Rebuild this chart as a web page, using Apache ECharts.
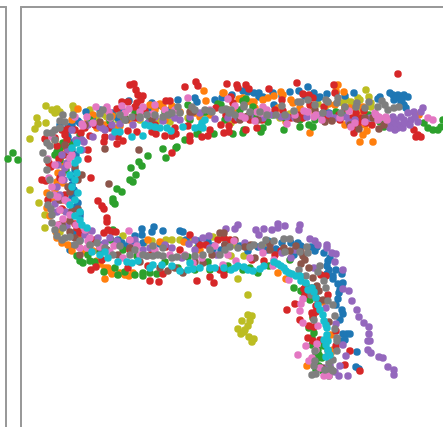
<!DOCTYPE html>
<html><head><meta charset="utf-8">
<style>html,body{margin:0;padding:0;background:#fff}#c{width:443px;height:427px}</style>
<script src="https://cdn.jsdelivr.net/npm/echarts@6/dist/echarts.min.js"></script>
</head><body><div id="c"></div>
<script>
const blue=[[243,91],[254,93],[259,93],[259,97],[273,93],[290,92],[299,91],[308,87],[314,93],[318,98],[327,94],[336,93],[354,93],[380,97],[378,99],[393,95],[398,95],[404,95],[408,97],[394,100],[401,102],[404,105],[406,108],[274,105],[228,115],[329,113],[86,112],[112,113],[72,125],[78,121],[68,127],[129,101],[152,103],[157,106],[178,100],[195,98],[197,102],[68,137],[80,123],[72,178],[75,193],[78,203],[80,213],[80,216],[142,229],[142,235],[154,227],[152,232],[163,231],[180,231],[183,232],[198,241],[199,245],[213,246],[213,249],[135,236],[130,241],[127,246],[102,245],[70,250],[248,251],[267,250],[268,241],[276,249],[291,243],[298,243],[301,246],[317,247],[315,251],[324,253],[328,261],[327,266],[329,270],[336,270],[342,274],[333,279],[338,284],[343,283],[339,293],[338,299],[342,310],[343,314],[343,334],[347,334],[357,352],[356,367],[359,369],[294,255],[341,341],[221,250],[70,130],[66,135],[74,142],[72,150],[76,155],[75,170],[72,185],[74,190],[72,198],[76,207],[60,125],[92,118],[100,110],[118,118],[123,112],[140,110],[150,108],[170,110],[215,100],[222,98],[232,95],[248,92],[263,97],[282,96],[305,96],[320,97],[345,96],[390,93],[396,98],[400,98],[402,100],[118,240],[122,243],[135,243],[143,243],[160,244],[186,240],[208,242],[225,245],[240,246],[258,247],[282,243],[311,247],[330,258],[327,274],[333,276],[340,290],[336,305],[340,320],[350,334],[345,340],[76,232],[80,240],[72,246]];
const orange=[[224,93],[239,99],[243,98],[251,102],[254,102],[236,112],[268,98],[274,96],[281,92],[283,95],[291,100],[293,103],[329,104],[336,91],[338,85],[344,92],[346,112],[363,107],[364,110],[286,122],[310,133],[360,142],[373,142],[363,135],[367,131],[419,115],[78,109],[93,115],[105,125],[112,116],[117,128],[120,126],[160,104],[163,107],[172,106],[206,101],[204,91],[200,117],[62,165],[58,173],[57,182],[63,183],[47,193],[63,200],[47,208],[63,173],[223,93],[97,128],[50,216],[57,238],[68,245],[72,251],[78,246],[87,253],[93,251],[97,261],[105,268],[108,268],[112,274],[105,279],[125,275],[129,276],[133,273],[148,240],[184,242],[307,366],[278,273],[286,279],[323,302],[331,335],[331,353],[333,350],[55,140],[60,150],[60,160],[55,190],[55,200],[63,210],[65,222],[56,232],[62,243],[78,238],[85,250],[100,264],[110,271],[120,273],[130,120],[138,118],[150,105],[155,110],[165,120],[180,112],[195,113],[210,115],[228,110],[245,103],[255,108],[263,100],[278,108],[300,108],[315,113],[335,105],[350,108],[345,125],[365,125],[358,115],[160,242],[200,250],[88,120],[72,120],[124,118]];
const green=[[243,101],[246,99],[253,107],[221,105],[233,134],[243,133],[244,130],[261,132],[263,128],[284,130],[300,127],[309,125],[313,127],[273,115],[324,118],[336,112],[424,123],[428,128],[433,130],[438,130],[441,127],[443,120],[369,115],[384,127],[13,153],[8,159],[18,160],[57,152],[58,155],[63,143],[72,145],[135,112],[197,134],[198,132],[185,140],[214,134],[218,104],[188,105],[177,147],[176,148],[163,149],[166,158],[148,156],[139,162],[142,166],[131,168],[136,175],[130,180],[133,182],[117,189],[122,192],[113,199],[115,204],[113,202],[77,256],[80,261],[83,263],[90,261],[104,272],[118,275],[135,275],[143,273],[143,276],[150,273],[157,274],[111,240],[123,250],[137,256],[113,230],[208,262],[210,270],[188,257],[294,288],[301,291],[304,293],[313,318],[309,328],[314,333],[316,355],[319,355],[319,366],[323,371],[329,376],[243,270],[258,273],[269,266],[290,260],[228,266],[324,346],[60,148],[60,160],[55,155],[66,170],[80,135],[90,120],[110,121],[125,118],[150,120],[165,112],[190,120],[205,112],[225,120],[240,110],[255,115],[268,122],[285,118],[300,120],[315,120],[345,115],[355,118],[375,118],[380,122],[388,120],[100,252],[95,262],[88,255],[115,268],[125,272],[165,262],[178,268],[195,270],[225,270],[250,268],[312,345],[318,350],[316,360],[322,358],[326,372],[316,370],[312,338],[306,285],[310,300]];
const red=[[398,74],[227,84],[237,85],[238,88],[246,85],[249,89],[269,89],[297,83],[334,85],[335,93],[303,94],[309,95],[313,98],[231,97],[233,103],[282,100],[283,111],[324,107],[221,125],[229,126],[229,132],[224,133],[246,130],[257,128],[226,115],[291,118],[298,115],[303,118],[339,115],[340,120],[356,113],[364,111],[359,120],[358,125],[366,123],[356,128],[354,133],[414,130],[418,135],[421,137],[416,137],[130,85],[134,84],[136,90],[138,95],[143,96],[141,100],[137,103],[135,107],[122,102],[128,102],[185,87],[196,82],[198,86],[117,109],[145,111],[166,101],[170,101],[188,126],[128,131],[137,132],[152,132],[156,134],[165,136],[172,136],[176,134],[118,137],[123,141],[117,144],[105,137],[104,142],[90,136],[81,133],[190,136],[190,141],[202,137],[208,136],[216,108],[172,153],[45,139],[55,138],[62,130],[68,129],[57,146],[67,140],[67,148],[71,150],[88,150],[88,159],[59,159],[49,163],[51,167],[42,180],[46,181],[91,178],[98,201],[102,206],[104,209],[48,200],[62,209],[107,218],[107,222],[104,233],[108,230],[112,232],[116,232],[91,270],[96,267],[102,260],[148,266],[128,268],[150,281],[159,282],[163,274],[197,281],[210,277],[214,283],[190,235],[206,245],[218,240],[166,247],[80,233],[220,270],[77,228],[252,260],[264,261],[224,275],[304,289],[287,310],[295,304],[316,306],[312,313],[313,316],[300,320],[309,326],[314,327],[313,341],[336,346],[350,351],[321,275],[326,276],[328,295],[360,371],[336,331],[281,251],[224,238],[65,135],[75,130],[85,128],[95,125],[110,128],[135,118],[155,125],[175,128],[210,130],[235,120],[250,120],[262,120],[275,110],[310,105],[322,115],[328,118],[345,108],[352,118],[362,118],[372,125],[64,155],[60,178],[65,195],[75,224],[60,225],[85,232],[95,240],[130,250],[150,255],[180,250],[200,245],[230,240],[275,255],[305,295],[318,300],[316,312],[320,340],[308,338],[345,365]];
const purple=[[238,118],[241,118],[263,118],[281,117],[287,117],[307,117],[329,114],[346,117],[349,122],[391,123],[396,120],[401,117],[399,125],[403,128],[398,128],[408,113],[414,112],[411,120],[418,122],[423,108],[421,112],[394,125],[82,140],[84,142],[93,137],[100,127],[112,125],[112,137],[133,125],[148,123],[163,121],[175,118],[180,120],[190,117],[215,119],[82,150],[67,163],[65,168],[62,174],[57,187],[58,197],[55,204],[57,212],[102,128],[67,226],[92,231],[98,238],[105,243],[117,241],[131,247],[172,248],[189,244],[195,240],[203,238],[209,236],[217,255],[182,258],[143,250],[226,229],[238,225],[235,229],[256,230],[259,235],[264,229],[272,230],[278,224],[278,228],[285,226],[300,225],[299,230],[310,239],[315,241],[327,245],[327,248],[332,253],[336,254],[335,262],[343,270],[343,289],[349,291],[352,301],[357,310],[359,317],[364,323],[369,327],[369,334],[368,341],[370,341],[368,350],[371,353],[379,357],[383,358],[388,367],[394,370],[394,375],[348,376],[340,366],[339,376],[346,356],[343,345],[336,324],[326,308],[282,253],[291,258],[261,247],[314,268],[72,130],[76,140],[68,150],[62,155],[58,165],[64,180],[60,195],[60,200],[66,212],[88,125],[105,130],[120,124],[140,118],[155,117],[170,115],[200,113],[228,118],[250,115],[270,115],[295,118],[320,115],[335,118],[355,120],[370,118],[404,120],[395,130],[405,123],[393,117],[390,128],[410,125],[415,117],[85,235],[110,238],[135,240],[150,248],[165,245],[195,250],[210,248],[225,245],[245,243],[270,245],[295,250],[318,245],[330,365],[335,372],[325,368]];
const brown=[[246,117],[248,116],[297,119],[325,122],[332,121],[359,129],[379,129],[384,125],[373,118],[105,149],[139,150],[109,184],[78,180],[82,175],[68,187],[70,192],[78,209],[72,211],[190,112],[193,112],[75,167],[70,157],[70,221],[80,255],[107,250],[118,255],[168,271],[183,273],[203,263],[212,255],[220,233],[224,233],[251,245],[301,252],[303,256],[301,264],[309,268],[313,278],[317,286],[319,291],[323,300],[329,322],[322,368],[270,244],[284,248],[290,251],[65,145],[60,200],[62,225],[70,232],[75,238],[90,245],[100,248],[130,248],[140,262],[160,268],[175,268],[195,262],[225,245],[235,240],[245,247],[255,258],[270,250],[296,246],[305,260],[315,295],[312,288],[240,120],[258,120],[315,110],[350,125],[365,118],[100,122],[85,125],[126,120],[152,119]];
const pink=[[228,99],[257,112],[263,107],[267,110],[241,116],[255,121],[287,124],[304,111],[308,112],[316,115],[314,117],[349,111],[351,127],[376,115],[379,117],[378,120],[386,117],[428,118],[433,120],[96,107],[107,107],[87,117],[93,123],[82,124],[109,112],[122,106],[129,109],[143,107],[155,105],[153,114],[188,98],[52,137],[48,159],[72,155],[49,178],[62,180],[52,187],[58,197],[68,202],[65,200],[83,126],[63,219],[129,231],[88,241],[87,248],[80,248],[114,246],[137,246],[193,263],[202,258],[147,256],[123,258],[289,280],[303,299],[301,304],[300,311],[303,323],[318,326],[306,346],[298,355],[309,361],[317,344],[329,376],[324,376],[274,260],[263,253],[236,261],[273,266],[223,265],[234,241],[70,158],[68,165],[55,165],[54,195],[60,210],[58,225],[70,215],[76,225],[85,230],[90,238],[100,247],[110,252],[130,240],[140,255],[155,250],[170,255],[185,255],[215,246],[228,255],[250,258],[75,117],[110,118],[125,113],[140,112],[165,110],[175,110],[210,110],[235,106],[245,118],[262,113],[295,115],[322,120],[340,118],[355,123],[365,122],[380,118],[375,113],[387,120],[312,358],[320,368],[316,350]];
const gray=[[226,109],[231,110],[229,113],[244,105],[244,107],[282,106],[298,102],[301,102],[308,100],[326,100],[328,102],[338,98],[337,103],[357,103],[356,107],[369,102],[382,101],[378,107],[388,110],[394,108],[399,107],[267,115],[276,115],[294,111],[323,113],[341,113],[63,115],[73,115],[60,121],[65,122],[55,130],[52,133],[47,133],[47,143],[50,146],[43,153],[47,170],[50,195],[51,209],[100,114],[103,110],[120,115],[132,117],[140,117],[147,115],[163,117],[168,115],[178,107],[180,113],[192,107],[205,110],[210,111],[52,223],[55,230],[57,236],[65,238],[70,237],[80,241],[97,243],[120,246],[130,255],[147,256],[153,256],[163,248],[163,256],[172,258],[177,257],[195,256],[220,255],[203,255],[153,246],[113,255],[230,247],[254,245],[266,240],[274,241],[284,239],[290,239],[307,247],[308,253],[299,270],[306,276],[320,266],[324,281],[326,288],[311,295],[328,301],[333,305],[335,316],[314,320],[335,329],[337,338],[337,341],[337,351],[328,351],[315,351],[315,361],[314,366],[316,374],[312,375],[329,363],[331,369],[333,371],[238,248],[60,128],[55,140],[47,160],[50,180],[48,205],[52,215],[63,228],[62,240],[75,245],[90,245],[105,248],[110,117],[125,120],[155,115],[172,113],[195,110],[212,112],[222,110],[235,115],[250,112],[260,112],[285,115],[315,105],[345,107],[365,108],[385,105],[135,250],[143,255],[158,255],[185,256],[210,250],[225,250],[250,247],[262,245],[285,252],[300,252],[318,272],[333,360],[325,370]];
const olive=[[226,119],[231,123],[266,119],[290,114],[312,109],[318,104],[346,100],[351,102],[358,98],[366,90],[369,97],[371,103],[371,107],[343,103],[46,106],[52,110],[57,109],[60,112],[73,106],[74,110],[37,118],[38,124],[35,129],[46,123],[90,110],[105,115],[118,120],[157,121],[188,118],[30,139],[30,190],[39,203],[107,117],[45,215],[59,225],[123,236],[144,243],[152,241],[166,240],[172,240],[180,240],[207,240],[197,248],[213,237],[153,251],[226,240],[231,256],[244,256],[238,279],[248,295],[248,315],[252,316],[250,321],[242,321],[248,326],[238,329],[241,334],[245,330],[244,332],[249,337],[254,339],[252,342],[55,113],[96,118],[115,116],[125,112],[140,120],[150,122],[170,122],[205,113],[240,115],[255,120],[280,118],[300,115],[325,108],[360,100],[362,108],[355,106],[45,228],[60,232],[130,240],[190,240],[220,238],[235,245],[265,246]];
const cyan=[[120,132],[132,137],[143,136],[145,125],[160,128],[167,128],[171,131],[183,127],[202,123],[203,128],[205,120],[77,143],[80,150],[75,163],[77,173],[72,187],[75,200],[115,132],[200,127],[75,216],[80,220],[87,228],[100,255],[108,258],[118,262],[127,262],[132,263],[138,261],[153,265],[162,265],[172,266],[180,271],[188,270],[200,268],[215,268],[193,269],[224,268],[231,270],[238,266],[244,267],[253,271],[260,269],[264,266],[281,266],[286,271],[289,273],[296,276],[301,281],[306,283],[312,288],[316,298],[318,305],[323,315],[324,321],[327,328],[327,335],[328,341],[328,350],[326,357],[72,148],[78,160],[70,175],[75,180],[78,193],[70,205],[80,212],[82,225],[92,252],[105,252],[150,268],[190,263],[210,268],[235,268],[248,270],[274,262],[278,264],[284,268],[292,274],[300,276],[308,290],[314,292],[320,310],[326,325],[324,340],[326,345],[330,355],[155,127],[195,128],[150,126]];

const groups=[olive,blue,orange,green,red,purple,brown,pink,gray,cyan];
const colors=['#bcbd22','#1f77b4','#ff7f0e','#2ca02c','#d62728','#9467bd','#8c564b','#e377c2','#7f7f7f','#17becf'];
const spine={show:true,onZero:false,lineStyle:{color:'#999999',width:2}};
const hide={show:false};
const chart=echarts.init(document.getElementById('c'),null,{renderer:'canvas'});
chart.setOption({
  animation:false,
  backgroundColor:'#ffffff',
  grid:[{left:21,top:7,width:430,height:430,outerBoundsMode:'none'},{left:-94,top:7,width:100,height:430,outerBoundsMode:'none'}],
  xAxis:[
    {gridIndex:0,type:'value',min:21,max:451,position:'top',axisLine:spine,axisTick:hide,axisLabel:hide,splitLine:hide},
    {gridIndex:1,type:'value',min:0,max:1,position:'top',axisLine:spine,axisTick:hide,axisLabel:hide,splitLine:hide}
  ],
  yAxis:[
    {gridIndex:0,type:'value',min:7,max:437,inverse:true,position:'left',axisLine:spine,axisTick:hide,axisLabel:hide,splitLine:hide},
    {gridIndex:1,type:'value',min:0,max:1,position:'right',axisLine:spine,axisTick:hide,axisLabel:hide,splitLine:hide}
  ],
  series:groups.map((d,i)=>({type:'scatter',xAxisIndex:0,yAxisIndex:0,data:d,clip:false,symbolSize:7.5,itemStyle:{color:colors[i],opacity:1},silent:true}))
});
</script></body></html>
